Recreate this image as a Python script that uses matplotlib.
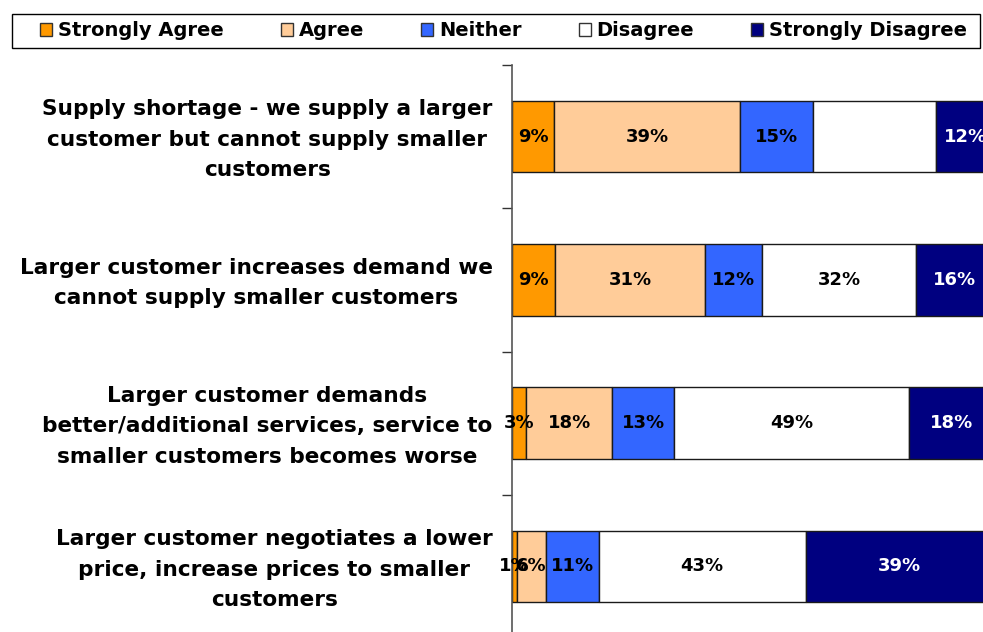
import matplotlib
matplotlib.use("Agg")
import matplotlib.pyplot as plt
from matplotlib.patches import Patch, Rectangle
from matplotlib.transforms import ScaledTranslation
import numpy as np

categories = [
    "Supply shortage - we supply a larger\ncustomer but cannot supply smaller\ncustomers",
    "Larger customer increases demand we\ncannot supply smaller customers",
    "Larger customer demands\nbetter/additional services, service to\nsmaller customers becomes worse",
    "Larger customer negotiates a lower\nprice, increase prices to smaller\ncustomers",
]
series_names = ["Strongly Agree", "Agree", "Neither", "Disagree", "Strongly Disagree"]
strongly_agree = [8.7, 9.0, 2.9, 1.0]
agree = [38.7, 31.0, 17.9, 6.0]
neither = [15.0, 11.9, 12.9, 11.0]
disagree = [25.6, 31.9, 48.6, 42.9]
strongly_disagree = [12.0, 16.2, 17.7, 39.1]
show_label = [
    [True, True, True, False, True],
    [True, True, True, True, True],
    [True, True, True, True, True],
    [True, True, True, True, True],
]
colors = ["#FF9900", "#FFCC99", "#3366FF", "#FFFFFF", "#000080"]
text_colors = ["black", "black", "black", "black", "white"]

W, H = 983, 632
fig = plt.figure(figsize=(W / 100, H / 100), dpi=100)
ax = fig.add_axes([512 / W, 1 - 638 / H, (994 - 512) / W, (638 - 65) / H])

data = np.array([strongly_agree, agree, neither, disagree, strongly_disagree])
n = len(categories)
y = np.arange(n)[::-1]  # first category at top
left = np.zeros(n)
for i, name in enumerate(series_names):
    vals = data[i]
    ax.barh(y, vals, left=left, height=0.5, color=colors[i],
            edgecolor="#1a1a1a", linewidth=1.0, label=name)
    for j in range(n):
        if show_label[j][i]:
            ax.text(left[j] + vals[j] / 2, y[j], f"{vals[j]:.0f}%",
                    ha="center", va="center", fontsize=13, fontweight="bold",
                    color=text_colors[i], family="DejaVu Sans")
    left = left + vals

ax.set_xlim(0, 100)
ax.set_ylim(-0.5, n - 0.5)
for s in ["top", "right", "bottom"]:
    ax.spines[s].set_visible(False)
ax.spines["left"].set_color("#555555")
ax.spines["left"].set_linewidth(1.2)
ax.set_xticks([])
ax.set_yticks(np.arange(n + 1) - 0.5)
ax.set_yticklabels([])
ax.tick_params(axis="y", which="major", length=7, color="#333333", width=1)
ax.set_yticks(y, minor=True)
ax.set_yticklabels(categories, minor=True, fontsize=15.6, fontweight="bold",
                   multialignment="center", linespacing=1.65)
ax.tick_params(axis="y", which="minor", length=0, pad=14)
shift = ScaledTranslation(0, 4 / 100, fig.dpi_scale_trans)
for lab in ax.get_yticklabels(minor=True):
    lab.set_transform(lab.get_transform() + shift)

# legend frame
fig.patches.append(Rectangle((12 / W, 1 - 48 / H), 968 / W, 34 / H,
                             transform=fig.transFigure, facecolor="white",
                             edgecolor="black", linewidth=1.0, zorder=0))
fs = 14
fpx = fs * 100 / 72
handles = [Patch(facecolor=c, edgecolor="#333333", linewidth=1.0) for c in colors]
leg = fig.legend(handles, series_names, loc="center left", ncol=5,
                 bbox_to_anchor=(40 / W, 1 - 31 / H),
                 prop={"weight": "bold", "size": fs}, frameon=False,
                 handlelength=12 / fpx, handleheight=12 / fpx,
                 handletextpad=6 / fpx, columnspacing=57 / fpx,
                 borderaxespad=0, borderpad=0)

fig.savefig("out.png", dpi=100)
